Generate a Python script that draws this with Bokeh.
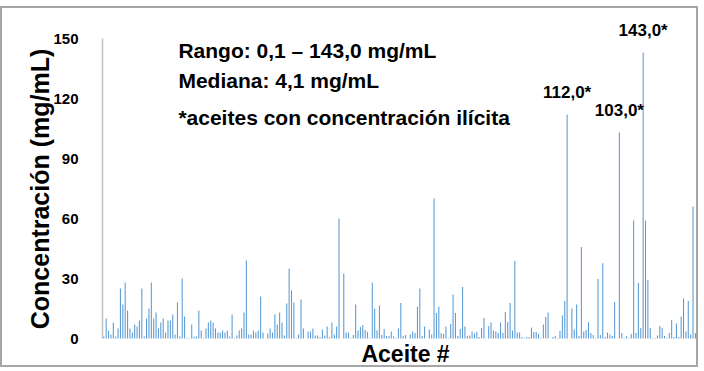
from bokeh.plotting import figure
from bokeh.models import Label, FixedTicker, Range1d
from bokeh.embed import file_html
from bokeh.resources import INLINE

# Concentration per oil sample (mg/mL), left to right
conc_a = [1, 10, 4, 2, 8, 1, 5, 25, 17, 28, 14, 5, 3, 7, 6, 9, 25, 1, 10, 15,
          28, 10, 13, 5, 8, 10, 3, 9, 9, 12, 2, 18, 1, 30, 11, 0.2, 0.3, 7, 1, 1, 14]
conc_b = [4, 0.2, 5, 8, 9, 8, 5, 3, 3, 4, 3, 4, 1, 12, 0.3, 1.5, 4, 5, 13, 39,
          2, 2, 4, 3, 4, 21, 3, 0, 2.5, 5, 3, 12, 7, 13, 8, 1.5, 17.5, 35, 24, 18, 0.2, 2]
conc_c = [19.5, 5, 0, 3.5, 3.5, 5, 1.5, 1.5, 0.7, 4.5, 1.5, 6, 0.7, 8, 2, 6, 60, 0, 32.5, 3,
          3, 0.3, 1.7, 17, 4, 5.7, 6.7, 4.3, 3.3, 0.3, 28, 15, 4, 16.5, 1.8, 4.7, 1.2, 1.3, 3.5, 1, 0.3, 5]
conc_d = [17.7, 1.2, 1.7, 0, 2, 3.5, 2.8, 16, 25, 1.2, 6, 0, 4.5, 2, 70, 12.7, 16, 2.7, 2.3, 6,
          0.3, 7.3, 22, 12.7, 1.2, 4.7, 25.7, 6, 1.2, 1.5, 3.5, 2.5, 3.2, 0.8, 5.2, 10.2, 0, 6.3, 8, 4, 3.5, 2.8]
conc_e = [8, 2.7, 13.2, 8.2, 17.7, 4, 38.8, 3, 3, 0.7, 0.3, 0.7, 0.7, 5.5, 3.3, 3.2, 2.3, 0.3, 7, 10.7,
          13, 0, 0.7, 1.2, 0.3, 3.7, 11.5, 18.7, 112, 0, 15, 4.5, 17, 1.2, 45.8, 3.5, 4.2, 8.2, 2.7, 1.7, 0.3, 29.8]
conc_f = [1.8, 37.6, 0.7, 3, 2, 1.2, 18.2, 0, 103, 2.7, 0.3, 1.2, 0.3, 2.2, 59, 2.7, 27.8, 5.2, 143, 59,
          29.4, 5.2, 0.3, 0.3, 1.5, 6.2, 5.2, 1.3, 0.3, 2.7, 9.2, 0.8, 7.5, 0.7, 11, 20, 3.5, 18.7, 2, 66, 2.7]

concentration = conc_a + conc_b + conc_c + conc_d + conc_e + conc_f
sample = list(range(1, len(concentration) + 1))

y_ticks = [0, 30, 60, 90, 120, 150]
info_lines = ["Rango: 0,1 \u2013 143,0 mg/mL", "Mediana: 4,1 mg/mL",
              "*aceites con concentraci\u00f3n il\u00edcita"]
illicit_values = [112.0, 103.0, 143.0]
illicit_labels = ["112,0*", "103,0*", "143,0*"]
x_title = "Aceite #"
y_title = "Concentraci\u00f3n (mg/mL)"

FONT = "Liberation Sans"

p = figure(width=698, height=361, x_range=Range1d(0.45, 251.3), y_range=Range1d(-15.5, 165),
           output_backend="svg", toolbar_location=None,
           min_border_left=100, min_border_right=2, min_border_top=0, min_border_bottom=0)
p.styles = {"border": "2px solid #a6a6a6", "margin-top": "6px"}
p.outline_line_color = None
p.xgrid.grid_line_color = None
p.ygrid.grid_line_color = None
p.background_fill_color = "white"
p.border_fill_color = "white"

p.vbar(x=sample, top=concentration, width=0.45, color="#5b9bd5", line_color=None)

# y axis
p.yaxis.ticker = FixedTicker(ticks=y_ticks)
p.yaxis.bounds = (0, 150)
p.yaxis.major_tick_line_color = None
p.yaxis.minor_tick_line_color = None
p.yaxis.axis_line_color = "#bfbfbf"
p.yaxis.axis_line_width = 1.5
p.yaxis.major_label_text_font = FONT
p.yaxis.major_label_text_font_style = "bold"
p.yaxis.major_label_text_font_size = "15px"
p.yaxis.major_label_text_color = "black"
p.yaxis.major_label_standoff = 18
p.yaxis.axis_label = y_title
p.yaxis.axis_label_text_font = FONT
p.yaxis.axis_label_text_font_style = "bold"
p.yaxis.axis_label_text_font_size = "25px"
p.yaxis.axis_label_text_color = "black"
p.yaxis.axis_label_standoff = -4

p.xaxis.visible = False

# x title, placed under the bars
p.add_layout(Label(x=128, y=-7.5, text=x_title, text_font=FONT, text_font_style="bold",
                   text_font_size="23px", text_color="black",
                   text_align="center", text_baseline="middle"))

# info box text
for txt, yy in zip(info_lines, [144, 129, 110.5]):
    p.add_layout(Label(x=32.4, y=yy, text=txt, text_font=FONT, text_font_style="bold",
                       text_font_size="21px", text_color="black",
                       text_align="left", text_baseline="middle"))

# labels of the illicit samples
for val, lab in zip(illicit_values, illicit_labels):
    idx = concentration.index(val)
    xx = sample[idx]
    p.add_layout(Label(x=xx, y=val + 11, text=lab, text_font=FONT, text_font_style="bold",
                       text_font_size="17px", text_color="black",
                       text_align="center", text_baseline="middle"))

open("out.html", "w").write(file_html(p, INLINE))
